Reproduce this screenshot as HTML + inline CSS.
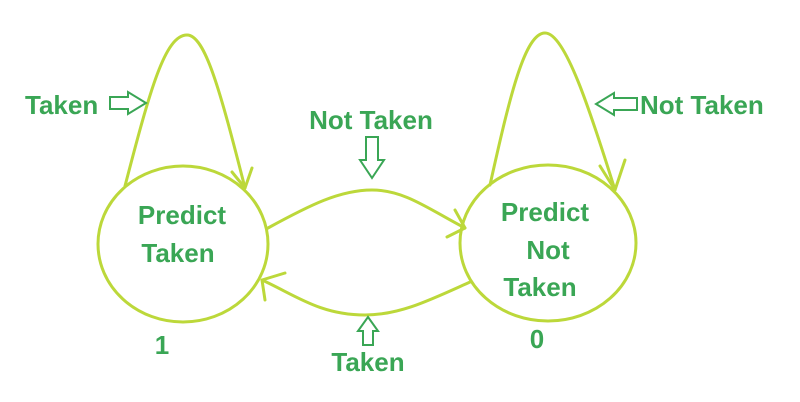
<!DOCTYPE html>
<html><head><meta charset="utf-8"><style>
html,body{margin:0;padding:0;background:#fff;width:800px;height:402px;overflow:hidden}
text{font-family:"Liberation Sans",sans-serif;font-weight:bold;fill:#3aa655;font-size:26px}
.ln{fill:none;stroke:#bcd83a;stroke-width:3;stroke-linecap:round;stroke-linejoin:round}
.ha{fill:#fff;stroke:#3aa655;stroke-width:2}
</style></head><body>
<svg width="800" height="402" viewBox="0 0 800 402">
<g>
<ellipse class="ln" cx="183" cy="244" rx="85" ry="78"/>
<text x="182" y="224" text-anchor="middle">Predict</text>
<text x="178" y="262" text-anchor="middle">Taken</text>
<text x="162" y="354" text-anchor="middle">1</text>
</g>
<g>
<ellipse class="ln" cx="548" cy="243" rx="88" ry="78"/>
<text x="545" y="221" text-anchor="middle">Predict</text>
<text x="548" y="259" text-anchor="middle">Not</text>
<text x="540" y="296" text-anchor="middle">Taken</text>
<text x="537" y="348" text-anchor="middle">0</text>
</g>
<g>
<path class="ln" d="M125 186 C150 90 165 35 187 35 C205 35 220 90 245 188"/>
<path class="ln" d="M232 172 L245 188 L252 168"/>
</g>
<g>
<path class="ln" d="M490 185 C510 95 525 33 545 33 C565 33 590 110 615 190"/>
<path class="ln" d="M600 166 L615 190 L625 160"/>
</g>
<g>
<path class="ln" d="M268 228 C310 205 340 190 372 190 C405 190 430 210 465 228"/>
<path class="ln" d="M455 210 L465 228 L447 237"/>
</g>
<g>
<path class="ln" d="M470 282 C430 300 400 315 365 315 C320 315 295 295 262 280"/>
<path class="ln" d="M285 273 L262 280 L265 300"/>
</g>
<g>
<text x="25" y="114">Taken</text>
<path class="ha" d="M110 97 H128 V92 L146 103 L128 114 V109 H110 Z"/>
</g>
<g>
<text x="371" y="129" text-anchor="middle">Not Taken</text>
<path class="ha" d="M366 137 H378 V160 H384 L372 178 L360 160 H366 Z"/>
</g>
<g>
<text x="640" y="114">Not Taken</text>
<path class="ha" d="M637 98 H614 V93 L596 104 L614 115 V110 H637 Z"/>
</g>
<g>
<text x="368" y="371" text-anchor="middle">Taken</text>
<path class="ha" d="M363 345 H373 V331 H378 L368 317 L358 331 H363 Z"/>
</g>
</svg>
</body></html>
